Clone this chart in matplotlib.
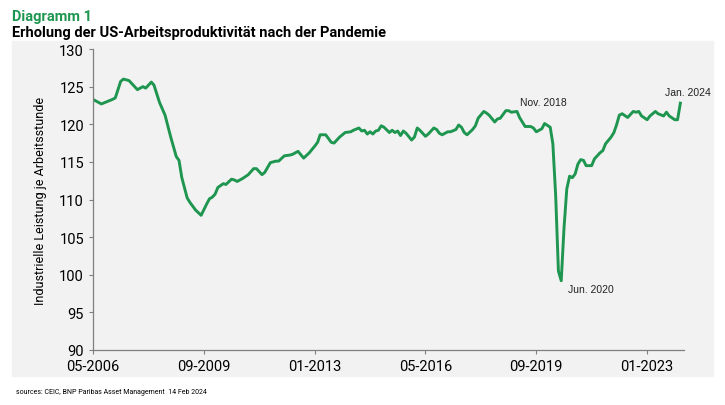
import matplotlib
matplotlib.use("Agg")
import matplotlib.pyplot as plt
import matplotlib.patches as mpatches
import matplotlib.dates as mdates
import pandas as pd

# months after 05-2006 and the index values
months = [0, 3, 7, 8, 10, 11, 13, 16, 18, 19, 21, 22, 24, 26, 28, 30, 31, 32, 34, 35,
          37, 39, 41, 42, 43, 44, 45, 47, 48, 50, 51, 52, 54, 56, 58, 59, 61, 62, 64, 66,
          67, 69, 71, 72, 74, 76, 78, 80, 81, 82, 84, 86, 87, 89, 91, 93, 94, 96, 97, 98,
          99, 100, 101, 102, 103, 104, 105, 107, 108, 109, 110, 111, 112, 113, 115, 116, 117, 118, 120, 121,
          123, 124, 125, 126, 128, 129, 131, 132, 133, 134, 135, 137, 138, 139, 141, 142, 143, 145, 146, 147,
          149, 150, 151, 153, 154, 156, 158, 159, 160, 162, 163, 165, 166, 167, 168, 169, 170, 171, 172, 173,
          174, 175, 176, 177, 178, 180, 181, 183, 184, 185, 187, 188, 189, 190, 191, 193, 195, 196, 197, 198,
          200, 201, 203, 204, 206, 207, 208, 210, 211, 212]
values = [123.3, 122.7, 123.3, 123.5, 125.7, 126.0, 125.8, 124.6, 125.0, 124.8, 125.6, 125.2, 122.9, 121.2, 118.3, 115.7, 115.2, 112.9, 110.2, 109.6,
          108.6, 107.9, 109.4, 110.1, 110.3, 110.7, 111.6, 112.1, 112.0, 112.7, 112.6, 112.4, 112.8, 113.3, 114.1, 114.1, 113.3, 113.6, 114.9, 115.1,
          115.1, 115.8, 115.9, 116.0, 116.4, 115.5, 116.2, 117.1, 117.6, 118.6, 118.6, 117.6, 117.5, 118.3, 118.9, 119.0, 119.2, 119.5, 119.1, 119.2,
          118.7, 119.0, 118.7, 119.1, 119.2, 119.8, 119.6, 118.9, 119.2, 118.9, 119.1, 118.5, 119.1, 118.8, 117.9, 118.3, 119.5, 119.2, 118.4, 118.7,
          119.5, 119.3, 118.8, 118.6, 119.0, 119.0, 119.3, 119.9, 119.6, 118.9, 118.6, 119.3, 119.8, 120.8, 121.7, 121.5, 121.2, 120.3, 120.7, 120.8,
          121.8, 121.8, 121.6, 121.7, 120.9, 119.7, 119.7, 119.5, 119.0, 119.4, 120.1, 119.6, 117.4, 110.5, 100.5, 99.2, 106.1, 111.4, 113.1, 112.9,
          113.4, 114.7, 115.3, 115.2, 114.5, 114.5, 115.4, 116.2, 116.5, 117.4, 118.3, 118.9, 120.0, 121.2, 121.4, 120.9, 121.7, 121.6, 121.7, 121.1,
          120.6, 121.1, 121.7, 121.4, 121.1, 121.6, 121.1, 120.6, 120.6, 122.8]

tick_dates = ["2006-05", "2009-09", "2013-01", "2016-05", "2019-09", "2023-01"]
notes = [("Nov. 2018", "2018-11"), ("Jun. 2020", "2020-06"), ("Jan. 2024", "2024-01")]

dates = [pd.Timestamp("2006-05-01") + pd.DateOffset(months=m) for m in months]

green = "#1e9650"
narrow = ["Roboto", "DejaVu Sans"]

fig = plt.figure(figsize=(7.25, 4.06), dpi=100)
fig.patches.append(mpatches.Rectangle((12 / 725, 1 - 377 / 406), 701 / 725, 335 / 406,
                                      transform=fig.transFigure, color="#f2f2f2", zorder=-10))

ax = fig.add_axes([93 / 725, 1 - 351 / 406, 591 / 725, 301 / 406])
ax.set_zorder(5)
ax.patch.set_alpha(0)
ax.plot(dates, values, color=green, lw=2.1)

ax.set_ylim(90, 130)
ax.set_yticks(range(90, 131, 5))
ax.set_xlim(pd.Timestamp("2006-05-01"), pd.Timestamp("2024-02-10"))
ax.set_xticks([pd.Timestamp(d) for d in tick_dates])
ax.xaxis.set_major_formatter(mdates.DateFormatter("%m-%Y"))
for s in ["top", "right"]:
    ax.spines[s].set_visible(False)
for s in ["left", "bottom"]:
    ax.spines[s].set_color("#7f7f7f")
    ax.spines[s].set_linewidth(0.9)
ax.tick_params(colors="#7f7f7f", length=3, width=0.8, labelcolor="black", labelsize=10.5)
for lab in ax.get_xticklabels() + ax.get_yticklabels():
    lab.set_family(narrow)
ax.set_ylabel("Industrielle Leistung je Arbeitsstunde", family=narrow, fontsize=9, labelpad=9)

offsets = {"Nov. 2018": (8, 6), "Jun. 2020": (5, -6), "Jan. 2024": (-11, 8)}
for text, d in notes:
    i = dates.index(pd.Timestamp(d + "-01"))
    ax.annotate(text, (dates[i], values[i]), xytext=offsets[text], textcoords="offset points",
                fontsize=7.5, family="Liberation Sans", color="#222222", va="center")

fig.text(12 / 725, 1 - 17 / 406, "Diagramm 1", color=green, fontsize=10.5, fontweight="bold",
         family=narrow, va="center")
fig.text(12 / 725, 1 - 33 / 406, "Erholung der US-Arbeitsproduktivität nach der Pandemie", color="black",
         fontsize=10.5, fontweight="bold", family=narrow, va="center")
fig.text(16 / 725, 1 - 393 / 406, "sources: CEIC, BNP Paribas Asset Management  14 Feb 2024",
         fontsize=5, family=narrow, va="center")

fig.savefig("out.png", dpi=100)
